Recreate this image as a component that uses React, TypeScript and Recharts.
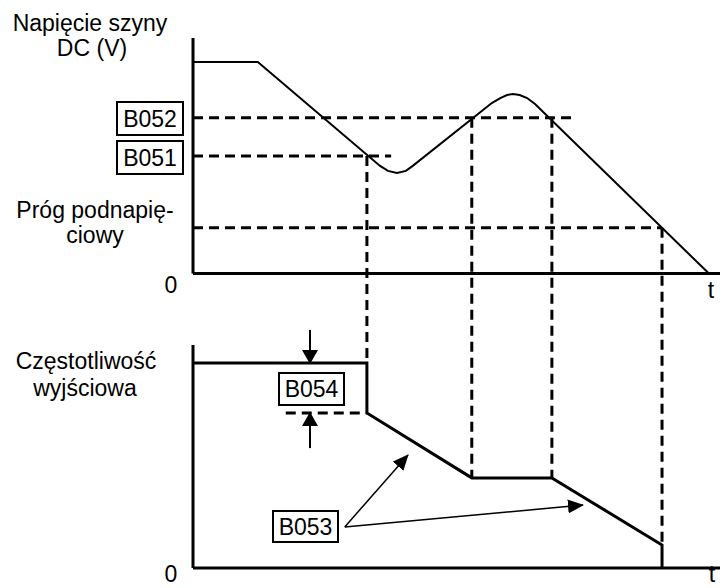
import { ComposedChart, Line, XAxis, YAxis, ReferenceLine } from 'recharts';

// time axis (arbitrary units 0..100)
const voltageTime = [0, 12.3, 35.5, 37.0, 38.7, 40.4, 41.7, 56.7, 58.3, 59.6, 60.7, 62.0, 63.4, 64.9, 97.9];
const voltageValue = [89.8, 89.8, 45.7, 43.6, 42.7, 43.6, 45.7, 72.4, 74.5, 75.8, 76.2, 75.8, 74.5, 72.0, 0];

const freqTime = [0, 33.0, 33.0, 52.9, 68.1, 89.0, 89.0];
const freqValue = [92.8, 92.8, 70.2, 40.8, 40.8, 10.4, 0];

// voltage levels: B052, B051, undervoltage threshold
const levelValues = [66.1, 49.9, 19.4];
const levelEnds = [71.9, 37.6, 89.0];

// event times where voltage crosses a level -> frequency response
const eventTimes = [33.0, 52.9, 68.1, 89.0];
const eventVoltage = [49.9, 66.1, 66.1, 19.4];
const eventFreq = [92.8, 40.8, 40.8, 10.4];

// B054 deceleration step and B053 pointers
const b054Time = 22.2;
const b054Start = 17.6;
const b053From = { t: 28.8, f: 18.6 };
const b053Targets = [
  { t: 40.8, f: 51.2 },
  { t: 74.0, f: 28.5 },
];

const V_DOMAIN = [-125, 100];
const F_DOMAIN = [0, 240];
const fToV = (f: number) =>
  V_DOMAIN[0] + ((f - F_DOMAIN[0]) / (F_DOMAIN[1] - F_DOMAIN[0])) * (V_DOMAIN[1] - V_DOMAIN[0]);

const voltageData = voltageTime.map((t, i) => ({ t, v: voltageValue[i] }));
const freqData = freqTime.map((t, i) => ({ t, f: freqValue[i] }));

const font = '"Liberation Sans", Arial, sans-serif';
const dash = '10 6';

const Box = ({ x, y, w, h, text }: { x: number; y: number; w: number; h: number; text: string }) => (
  <g>
    <rect x={x} y={y} width={w} height={h} fill="#fff" stroke="#000" strokeWidth={2} />
    <text x={x + w / 2} y={y + h / 2 + 8} textAnchor="middle" fontSize={23}>{text}</text>
  </g>
);

const App = () => {
  return (
    <div style={{ position: 'absolute', left: 0, top: 0, width: 720, height: 588, background: '#fff' }}>
      <ComposedChart width={720} height={588} margin={{ top: 38, right: 0, bottom: 20, left: 193 }}>
        <defs>
          <marker id="head" markerUnits="userSpaceOnUse" markerWidth={14} markerHeight={16} refX={13} refY={8} orient="auto">
            <path d="M0,0 L14,8 L0,16 z" fill="#000" />
          </marker>
          <marker id="headSmall" markerUnits="userSpaceOnUse" markerWidth={16} markerHeight={14} refX={15} refY={7} orient="auto">
            <path d="M0,0 L16,7 L0,14 z" fill="#000" />
          </marker>
        </defs>
        <XAxis type="number" dataKey="t" domain={[0, 100]} hide allowDataOverflow />
        <YAxis yAxisId="v" type="number" domain={V_DOMAIN} hide allowDataOverflow />
        <YAxis yAxisId="f" type="number" domain={F_DOMAIN} hide allowDataOverflow />

        {/* axes */}
        <ReferenceLine yAxisId="v" segment={[{ x: 0, y: 0 }, { x: 0, y: 100 }]} stroke="#000" strokeWidth={3} />
        <ReferenceLine yAxisId="v" segment={[{ x: 0, y: 0 }, { x: 100, y: 0 }]} stroke="#000" strokeWidth={3} />
        <ReferenceLine yAxisId="f" segment={[{ x: 0, y: 0 }, { x: 0, y: 101 }]} stroke="#000" strokeWidth={3} />
        <ReferenceLine yAxisId="f" segment={[{ x: 0, y: 0 }, { x: 100, y: 0 }]} stroke="#000" strokeWidth={3} />

        {/* voltage levels */}
        {levelValues.map((v, i) => (
          <ReferenceLine key={`lv${i}`} yAxisId="v" segment={[{ x: 0, y: v }, { x: levelEnds[i], y: v }]}
            stroke="#000" strokeWidth={3} strokeDasharray={dash} />
        ))}

        {/* event verticals */}
        {eventTimes.map((t, i) => (
          <ReferenceLine key={`ev${i}`} yAxisId="v" segment={[{ x: t, y: eventVoltage[i] }, { x: t, y: fToV(eventFreq[i]) }]}
            stroke="#000" strokeWidth={3} strokeDasharray={dash} />
        ))}

        {/* B054 */}
        <ReferenceLine yAxisId="f" segment={[{ x: b054Start, y: freqValue[2] }, { x: freqTime[2], y: freqValue[2] }]}
          stroke="#000" strokeWidth={3} strokeDasharray={dash} />
        <ReferenceLine yAxisId="f" segment={[{ x: b054Time, y: 107.8 }, { x: b054Time, y: freqValue[0] }]}
          stroke="#000" strokeWidth={2} markerEnd="url(#head)" />
        <ReferenceLine yAxisId="f" segment={[{ x: b054Time, y: 54.3 }, { x: b054Time, y: freqValue[2] }]}
          stroke="#000" strokeWidth={2} markerEnd="url(#head)" />

        {/* B053 pointers */}
        {b053Targets.map((p, i) => (
          <ReferenceLine key={`b53${i}`} yAxisId="f" segment={[{ x: b053From.t, y: b053From.f }, { x: p.t, y: p.f }]}
            stroke="#000" strokeWidth={1.5} markerEnd="url(#headSmall)" />
        ))}

        <Line yAxisId="v" data={voltageData} dataKey="v" type="linear" stroke="#000" strokeWidth={2}
          dot={false} activeDot={false} isAnimationActive={false} />
        <Line yAxisId="f" data={freqData} dataKey="f" type="linear" stroke="#000" strokeWidth={3}
          strokeLinejoin="miter" dot={false} activeDot={false} isAnimationActive={false} />
      </ComposedChart>

      <svg width={720} height={588} style={{ position: 'absolute', left: 0, top: 0, pointerEvents: 'none' }}
        fontFamily={font} fill="#000">
        <text x={90} y={31} textAnchor="middle" fontSize={23}>Napięcie szyny</text>
        <text x={92} y={56} textAnchor="middle" fontSize={23}>DC (V)</text>
        <text x={95} y={218} textAnchor="middle" fontSize={23}>Próg podnapię-</text>
        <text x={95} y={243} textAnchor="middle" fontSize={23}>ciowy</text>
        <text x={171} y={293} textAnchor="middle" fontSize={23}>0</text>
        <text x={711} y={298} textAnchor="middle" fontSize={23}>t</text>
        <text x={86} y={369} textAnchor="middle" fontSize={23}>Częstotliwość</text>
        <text x={85} y={396} textAnchor="middle" fontSize={23}>wyjściowa</text>
        <text x={171} y={582} textAnchor="middle" fontSize={23}>0</text>
        <text x={712} y={582} textAnchor="middle" fontSize={23}>t</text>
        <Box x={117} y={102} w={66} h={33} text="B052" />
        <Box x={117} y={141} w={66} h={33} text="B051" />
        <Box x={279} y={373} w={65} h={32} text="B054" />
        <Box x={273} y={511} w={65} h={31} text="B053" />
      </svg>
    </div>
  );
};

export default App;
